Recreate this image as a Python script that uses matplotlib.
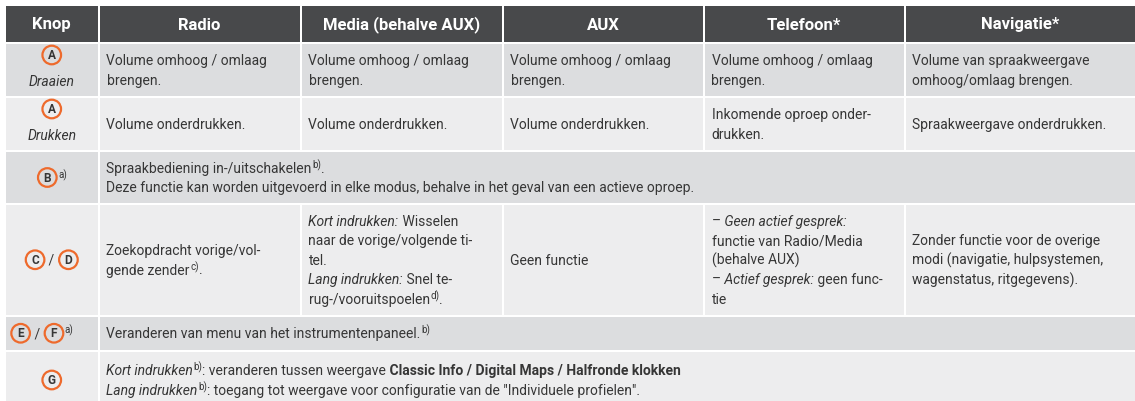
import re
import matplotlib.pyplot as plt
from matplotlib.patches import Rectangle, Circle

# table content
header = ["Knop", "Radio", "Media (behalve AUX)", "AUX", "Telefoon*", "Navigatie*"]
knop = ["<c>A</c>\n<i>Draaien</i>",
        "<c>A</c>\n<i>Drukken</i>",
        "<c>B</c><sup>a)</sup>",
        "<c>C</c> / <c>D</c>",
        "<c>E</c> / <c>F</c><sup>a)</sup>",
        "<c>G</c>"]
radio = ["Volume omhoog / omlaag\nbrengen.",
         "Volume onderdrukken.",
         None,
         "Zoekopdracht vorige/vol-\ngende zender<sup>c)</sup>.",
         None, None]
media = ["Volume omhoog / omlaag\nbrengen.",
         "Volume onderdrukken.",
         None,
         "<i>Kort indrukken:</i> Wisselen\nnaar de vorige/volgende ti-\ntel.\n"
         "<i>Lang indrukken:</i> Snel te-\nrug-/vooruitspoelen<sup>d)</sup>.",
         None, None]
aux = ["Volume omhoog / omlaag\nbrengen.",
       "Volume onderdrukken.",
       None,
       "Geen functie",
       None, None]
telefoon = ["Volume omhoog / omlaag\nbrengen.",
            "Inkomende oproep onder-\ndrukken.",
            None,
            "–<i> Geen actief gesprek:</i>\nfunctie van Radio/Media\n(behalve AUX)\n"
            "–<i> Actief gesprek:</i> geen func-\ntie",
            None, None]
navigatie = ["Volume van spraakweergave\nomhoog/omlaag brengen.",
             "Spraakweergave onderdrukken.",
             None,
             "Zonder functie voor de overige\nmodi (navigatie, hulpsystemen,\nwagenstatus, ritgegevens).",
             None, None]
span_text = {
    2: "Spraakbediening in-/uitschakelen<sup>b)</sup>.\n"
       "Deze functie kan worden uitgevoerd in elke modus, behalve in het geval van een actieve oproep.",
    4: "Veranderen van menu van het instrumentenpaneel.<sup>b)</sup>",
    5: "<i>Kort indrukken</i><sup>b)</sup>: veranderen tussen weergave<b> Classic Info / Digital Maps / Halfronde klokken</b>\n"
       "<i>Lang indrukken</i><sup>b)</sup>: toegang tot weergave voor configuratie van de \"Individuele profielen\".",
}

# layout (pixels)
W, H = 1135, 401
col_edges = [5, 98.5, 300.5, 502.5, 703.5, 904.5, 1136]
row_edges = [5, 43, 97, 151, 204, 315.5, 351, 409]
knop_shift = [0, 0, 0, 0, -10, 0]
FONT = ['Roboto', 'DejaVu Sans']
FS = 10.0
LH = 19.5
BASE = 5.0
R = 9.3
TXT = '#363636'
ORANGE = '#ee6a2c'
HEAD_BG = '#48494b'
DARK = '#dcdddf'
LIGHT = '#ededee'

fig = plt.figure(figsize=(W / 100, H / 100), dpi=100)
fig.patch.set_facecolor('white')
ax = fig.add_axes([0, 0, 1, 1])
ax.set_xlim(0, W)
ax.set_ylim(H, 0)
ax.axis('off')
rend = fig.canvas.get_renderer()

STYLE = {
    'n': dict(fontsize=FS),
    'i': dict(fontsize=FS, style='italic'),
    'b': dict(fontsize=FS, weight='bold'),
    'sup': dict(fontsize=FS * 0.7),
}


def parse(line):
    return [(m.group(2), m.group(1)) if m.group(1) else (m.group(3), 'n')
            for m in re.finditer(r'<(i|b|sup|c)>(.*?)</\1>|([^<]+)', line)]


def text_width(s, kw):
    t = ax.text(0, 0, 'x' + s + 'x', family=FONT, **kw)
    t2 = ax.text(0, 0, 'xx', family=FONT, **kw)
    w = t.get_window_extent(rend).width - t2.get_window_extent(rend).width
    t.remove()
    t2.remove()
    return w


def draw_line(x, y, line, ha='left', color=TXT):
    runs = parse(line)
    widths = [2 * R + 2 if st == 'c' else text_width(s, STYLE[st]) for s, st in runs]
    if ha == 'center':
        x -= sum(widths) / 2
    base = y + BASE
    for (s, st), w in zip(runs, widths):
        if st == 'c':
            ax.add_patch(Circle((x + w / 2, y), R, fill=False, ec=ORANGE, lw=1.6))
            ax.text(x + w / 2, y + 0.6, s, ha='center', va='center', family=FONT,
                    fontsize=8.6, weight='bold', color=TXT)
        elif st == 'sup':
            ax.text(x + 0.5, base - 4.5, s, va='baseline', family=FONT, color=color, **STYLE[st])
        else:
            ax.text(x, base, s, va='baseline', family=FONT, color=color, **STYLE[st])
        x += w


def draw_cell(x0, x1, y0, y1, bg, s, ha='left', dx=0):
    ax.add_patch(Rectangle((x0, y0), x1 - x0, y1 - y0, fc=bg, ec='none'))
    if s is None:
        return
    yc = (y0 + y1) / 2
    lines = s.split('\n')
    if '<c>' in lines[0] and len(lines) == 2:
        ys = [yc - 15, yc + 11]
    else:
        ys = [yc + (k - (len(lines) - 1) / 2) * LH for k in range(len(lines))]
    xt = (x0 + x1) / 2 + dx if ha == 'center' else x0 + 7
    for line, y in zip(lines, ys):
        draw_line(xt, y, line, ha)


columns = [radio, media, aux, telefoon, navigatie]
for r in range(len(row_edges) - 1):
    y0, y1 = row_edges[r] + 1, row_edges[r + 1] - 1
    if r == 0:
        for c, name in enumerate(header):
            x0, x1 = col_edges[c] + 1, col_edges[c + 1] - 1
            ax.add_patch(Rectangle((x0, y0), x1 - x0, y1 - y0, fc=HEAD_BG, ec='none'))
            ax.text((x0 + x1) / 2, (y0 + y1) / 2 + 5.5, name, ha='center', va='baseline',
                    family=FONT, fontsize=12, weight='bold', color='white')
        continue
    d = r - 1
    bg = DARK if r % 2 == 1 else LIGHT
    draw_cell(col_edges[0] + 1, col_edges[1] - 1, y0, y1, bg, knop[d], 'center', knop_shift[d])
    if d in span_text:
        draw_cell(col_edges[1] + 1, col_edges[-1] - 1, y0, y1, bg, span_text[d])
    else:
        for c, col in enumerate(columns, start=1):
            draw_cell(col_edges[c] + 1, col_edges[c + 1] - 1, y0, y1, bg, col[d])

fig.savefig('out.png', dpi=100, facecolor='white')
